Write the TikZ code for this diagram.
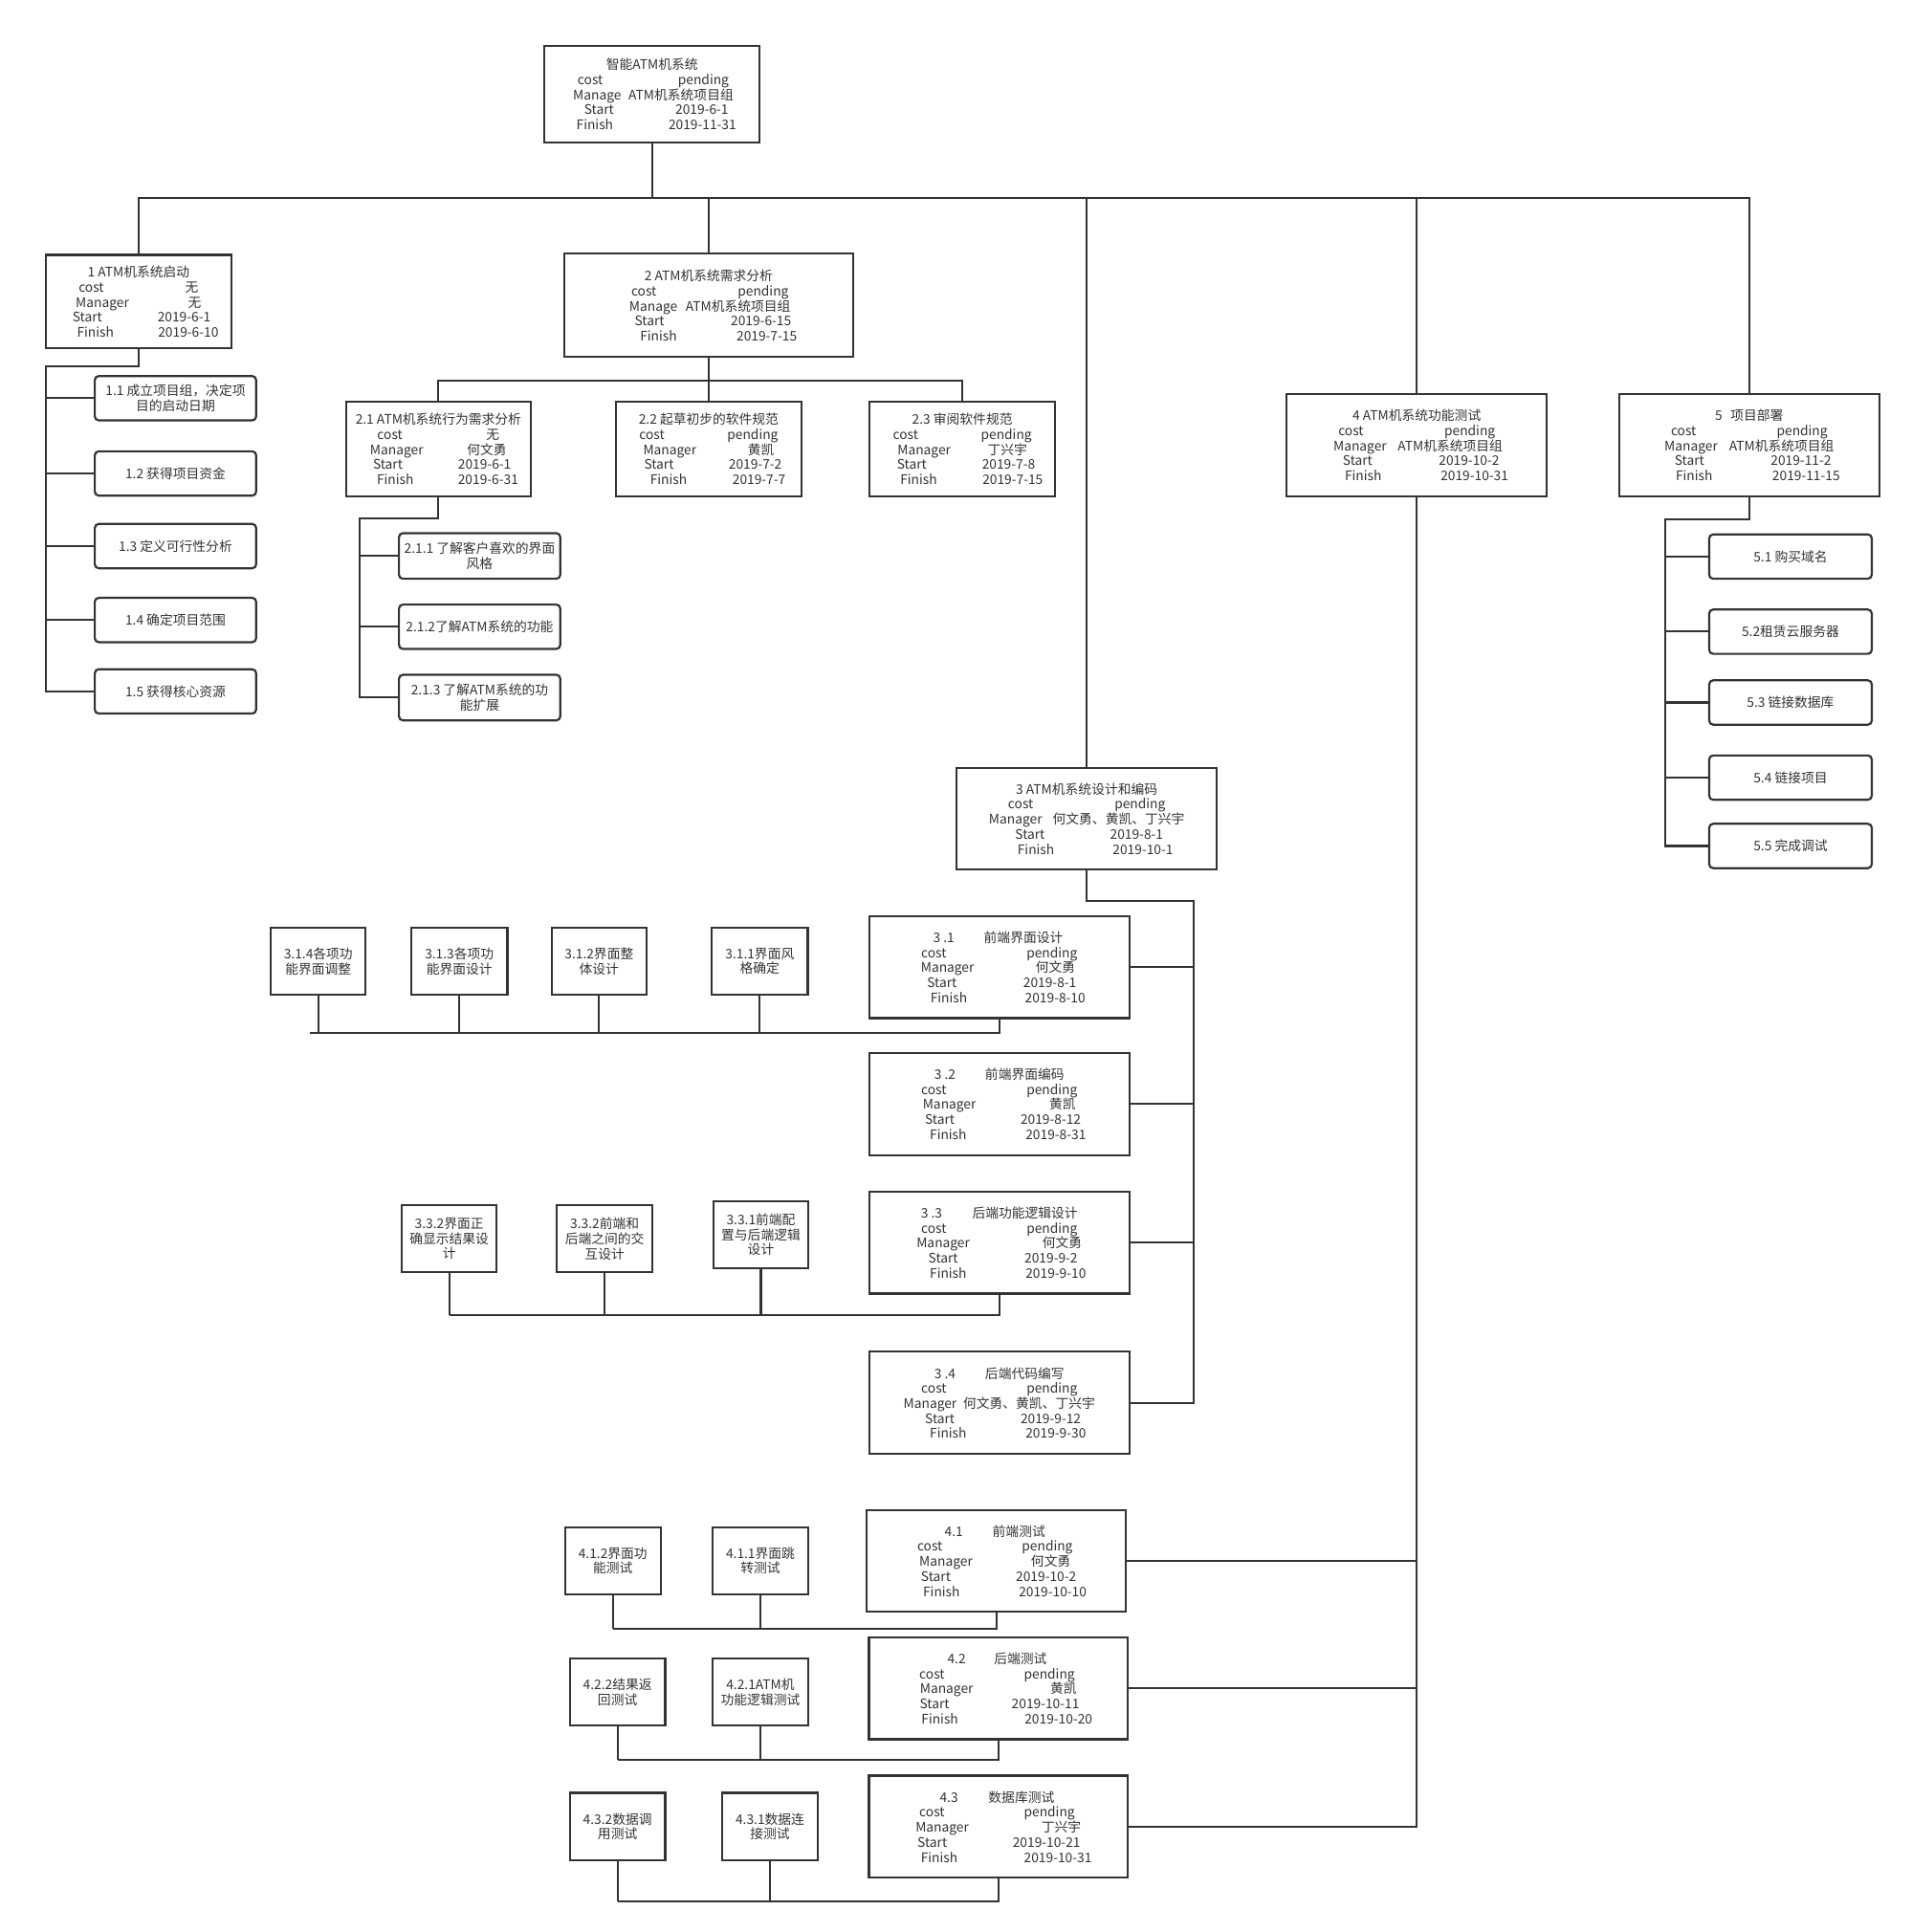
\documentclass[tikz,border=0pt]{standalone}
\usepackage{fontspec}
\setmainfont{Noto Sans CJK SC}
\definecolor{lc}{HTML}{333333}
\newcommand\fs{\fontsize{5.35}{6.1}\selectfont}
\setlength{\unitlength}{0.5pt}
\newcommand\rw[4][0]{\kern#1\unitlength #2\hspace*{#3\unitlength}#4\kern-#1\unitlength}
\tikzset{
  box/.style={draw=lc, line width=0.85pt, inner sep=0pt, align=center, font=\fs, text=lc},
  rbox/.style={box, rounded corners=1.6pt},
  sz/.style 2 args={minimum width=#1*0.5pt, minimum height=#2*0.5pt},
  ln/.style={draw=lc, line width=0.8pt},
}
\begin{document}
\begin{tikzpicture}[x=0.5pt,y=-0.5pt]
\fill[white] (0,0) rectangle (1552,1569);
\useasboundingbox (0,0) rectangle (1552,1569);

% root
\node[box, sz={175}{79}] (root) at (529.5,76.5) {智能ATM机系统\\
\rw[1]{cost}{61}{pending}\\
\rw[1]{Manage}{6}{ATM机系统项目组}\\
\rw[3.5]{Start}{50}{2019-6-1}\\
\rw[3.5]{Finish}{45}{2019-11-31}};

% level 1
\node[box, sz={151}{76}] (b1) at (112.5,245) {1 ATM机系统启动\\
\rw{cost}{66}{无}\\
\rw{Manager}{48}{无}\\
\rw[2.5]{Start}{45}{2019-6-1}\\
\rw[7.5]{Finish}{36}{2019-6-10}};

\node[box, sz={235}{84}] (b2) at (575.5,248) {2 ATM机系统需求分析\\
\rw[1]{cost}{66}{pending}\\
\rw[1]{Manage}{6.7}{ATM机系统项目组}\\
\rw[3.5]{Start}{54}{2019-6-15}\\
\rw[8]{Finish}{48.5}{2019-7-15}};

\node[box, sz={211}{82.6}] (b3) at (882.5,664.8) {3 ATM机系统设计和编码\\
\rw{cost}{66}{pending}\\
\rw{Manager}{8.6}{何文勇、黄凯、丁兴宇}\\
\rw[2]{Start}{53}{2019-8-1}\\
\rw[7]{Finish}{47.5}{2019-10-1}};

\node[box, sz={211}{83}] (b4) at (1150.5,361.5) {4 ATM机系统功能测试\\
\rw{cost}{65.6}{pending}\\
\rw[1]{Manager}{9}{ATM机系统项目组}\\
\rw[3.5]{Start}{54}{2019-10-2}\\
\rw[8]{Finish}{48}{2019-10-31}};

\node[box, sz={211}{83}] (b5) at (1420.5,361.5) {5\hspace*{6.6\unitlength}项目部署\\
\rw{cost}{65.4}{pending}\\
\rw{Manager}{9.3}{ATM机系统项目组}\\
\rw[3]{Start}{54}{2019-11-2}\\
\rw[7]{Finish}{48.6}{2019-11-15}};

% root bus
\coordinate (busL) at (112.5,161);
\draw[ln] (root.south) -- (root.south |- busL);
\draw[ln] (b1.north) -- (b1.north |- busL) -- (b5.north |- busL) -- (b5.north);
\draw[ln] (b2.north) -- (b2.north |- busL);
\draw[ln] (b3.north) -- (b3.north |- busL);
\draw[ln] (b4.north) -- (b4.north |- busL);

% 1.x
\node[rbox, sz={131}{36}] (b11) at (142.5,323.4) {1.1 成立项目组，决定项\\目的启动日期};
\node[rbox, sz={131}{36}] (b12) at (142.5,384.5) {1.2 获得项目资金};
\node[rbox, sz={131}{36}] (b13) at (142.5,443.5) {1.3 定义可行性分析};
\node[rbox, sz={131}{36}] (b14) at (142.5,503.5) {1.4 确定项目范围};
\node[rbox, sz={131}{36}] (b15) at (142.5,561.5) {1.5 获得核心资源};
\coordinate (v1) at (37.2,297.7);
\draw[ln] (b1.south) |- (v1) -- (v1 |- b15.west) -- (b15.west);
\foreach \n in {b11,b12,b13,b14} \draw[ln] (v1 |- \n.west) -- (\n.west);

% 2.x
\node[box, sz={150}{77}] (b21) at (356,364.5) {2.1 ATM机系统行为需求分析\\
\rw{cost}{68}{无}\\
\rw{Manager}{35.5}{何文勇}\\
\rw[3]{Start}{45}{2019-6-1}\\
\rw[7.5]{Finish}{36}{2019-6-31}};
\node[box, sz={151}{77}] (b22) at (575.5,364.5) {2.2 起草初步的软件规范\\
\rw{cost}{51}{pending}\\
\rw{Manager}{41.6}{黄凯}\\
\rw[3.5]{Start}{44.6}{2019-7-2}\\
\rw[7.5]{Finish}{37}{2019-7-7}};
\node[box, sz={151}{77}] (b23) at (781.5,364.5) {2.3 审阅软件规范\\
\rw{cost}{51}{pending}\\
\rw{Manager}{30}{丁兴宇}\\
\rw[3]{Start}{45}{2019-7-8}\\
\rw[7.5]{Finish}{37}{2019-7-15}};
\coordinate (bus2) at (356,308.9);
\draw[ln] (b2.south) -- (b2.south |- bus2);
\draw[ln] (b21.north) |- (bus2 -| b23.north) -- (b23.north);
\draw[ln] (b22.north) -- (b22.north |- bus2);

% 2.1.x
\node[rbox, sz={131}{37}] (b211) at (389.5,451.5) {2.1.1 了解客户喜欢的界面\\风格};
\node[rbox, sz={131}{36}] (b212) at (389.5,509) {2.1.2了解ATM系统的功能};
\node[rbox, sz={131}{37}] (b213) at (389.5,566.5) {2.1.3 了解ATM系统的功\\能扩展};
\coordinate (v21) at (292.2,421);
\draw[ln] (b21.south) |- (v21) -- (v21 |- b213.west) -- (b213.west);
\foreach \n in {b211,b212} \draw[ln] (v21 |- \n.west) -- (\n.west);

% 3.x
\node[box, sz={211}{83}] (b31) at (811.5,785.3) {\rw[-1]{3 .1}{24}{前端界面设计}\\
\rw{cost}{65}{pending}\\
\rw[-1]{Manager}{50}{何文勇}\\
\rw[2]{Start}{54}{2019-8-1}\\
\rw[7]{Finish}{47}{2019-8-10}};
\node[box, sz={211}{83}] (b32) at (811.5,896.5) {\rw{3 .2}{24}{前端界面编码}\\
\rw{cost}{65}{pending}\\
\rw{Manager}{59.6}{黄凯}\\
\rw[3]{Start}{53.5}{2019-8-12}\\
\rw[7]{Finish}{48}{2019-8-31}};
\node[box, sz={211}{83}] (b33) at (811.5,1009) {\rw{3 .3}{24.5}{后端功能逻辑设计}\\
\rw{cost}{65}{pending}\\
\rw{Manager}{59}{何文勇}\\
\rw[3]{Start}{54}{2019-9-2}\\
\rw[7]{Finish}{48}{2019-9-10}};
\node[box, sz={211}{83}] (b34) at (811.5,1139.3) {\rw{3 .4}{24}{后端代码编写}\\
\rw{cost}{65}{pending}\\
\rw{Manager}{5.3}{何文勇、黄凯、丁兴宇}\\
\rw[3]{Start}{53.5}{2019-9-12}\\
\rw[7]{Finish}{48}{2019-9-30}};
\coordinate (v3) at (969.5,732);
\draw[ln] (b3.south) |- (v3) -- (v3 |- b34.east) -- (b34.east);
\foreach \n in {b31,b32,b33} \draw[ln] (\n.east) -- (\n.east -| v3);

% 3.1.x
\node[box, sz={77}{54.3}] (c314) at (258.5,780.6) {3.1.4各项功\\能界面调整};
\node[box, sz={78}{54.3}] (c313) at (373,780.6) {3.1.3各项功\\能界面设计};
\node[box, sz={77}{54.3}] (c312) at (486.5,780.6) {3.1.2界面整\\体设计};
\node[box, sz={78}{54.3}] (c311) at (617,780.6) {3.1.1界面风\\格确定};
\coordinate (bus31) at (251.6,839);
\draw[ln] (b31.south) |- (bus31);
\foreach \n in {c314,c313,c312,c311} \draw[ln] (\n.south) -- (\n.south |- bus31);

% 3.3.x
\node[box, sz={77}{54.5}] (c332a) at (364.8,1005.9) {3.3.2界面正\\确显示结果设\\计};
\node[box, sz={77.4}{54.5}] (c332b) at (491,1005.9) {3.3.2前端和\\后端之间的交\\互设计};
\node[box, sz={77.4}{54.6}] (c331) at (617.9,1002.7) {3.3.1前端配\\置与后端逻辑\\设计};
\coordinate (bus33) at (364.8,1068);
\draw[ln] (b33.south) |- (bus33);
\foreach \n in {c332a,c332b,c331} \draw[ln] (\n.south) -- (\n.south |- bus33);

% 4.x
\node[box, sz={210}{82}] (b41) at (809,1267.5) {\rw[-1]{4.1}{24}{前端测试}\\
\rw[-1]{cost}{64.5}{pending}\\
\rw[-1]{Manager}{47.5}{何文勇}\\
\rw[2]{Start}{53}{2019-10-2}\\
\rw[7]{Finish}{48}{2019-10-10}};
\node[box, sz={210}{83}] (b42) at (810.7,1371) {\rw[-1]{4.2}{23}{后端测试}\\
\rw[-1]{cost}{64.5}{pending}\\
\rw{Manager}{62.6}{黄凯}\\
\rw[1]{Start}{50.6}{2019-10-11}\\
\rw[7]{Finish}{54}{2019-10-20}};
\node[box, sz={210}{83}] (b43) at (810.7,1483.5) {\rw[-1]{4.3}{24.7}{数据库测试}\\
\rw[-1]{cost}{64.5}{pending}\\
\rw{Manager}{59}{丁兴宇}\\
\rw[0.5]{Start}{53.3}{2019-10-21}\\
\rw[6.5]{Finish}{54}{2019-10-31}};
\draw[ln] (b4.south) -- (b4.south |- b43.east) -- (b43.east);
\foreach \n in {b41,b42} \draw[ln] (\n.east) -- (\n.east -| b4.south);

% 4.x.x
\node[box, sz={77.5}{54.6}] (c412) at (497.7,1267.5) {4.1.2界面功\\能测试};
\node[box, sz={77.5}{54.6}] (c411) at (617.5,1267.5) {4.1.1界面跳\\转测试};
\coordinate (bus41) at (497.7,1323.1);
\draw[ln] (b41.south) |- (bus41);
\foreach \n in {c412,c411} \draw[ln] (\n.south) -- (\n.south |- bus41);

\node[box, sz={77.5}{54.6}] (c422) at (501.5,1374) {4.2.2结果返\\回测试};
\node[box, sz={77.5}{54.6}] (c421) at (617.5,1374) {4.2.1ATM机\\功能逻辑测试};
\coordinate (bus42) at (501.5,1429.2);
\draw[ln] (b42.south) |- (bus42);
\foreach \n in {c422,c421} \draw[ln] (\n.south) -- (\n.south |- bus42);

\node[box, sz={77.5}{55}] (c432) at (501.5,1483.4) {4.3.2数据调\\用测试};
\node[box, sz={77.5}{55}] (c431) at (625.3,1483.4) {4.3.1数据连\\接测试};
\coordinate (bus43) at (501.5,1544.2);
\draw[ln] (b43.south) |- (bus43);
\foreach \n in {c432,c431} \draw[ln] (\n.south) -- (\n.south |- bus43);

% 5.x
\node[rbox, sz={132}{36}] (b51) at (1454,452) {5.1 购买域名};
\node[rbox, sz={132}{36}] (b52) at (1454,513) {5.2租赁云服务器};
\node[rbox, sz={132}{36}] (b53) at (1454,570.5) {5.3 链接数据库};
\node[rbox, sz={132}{36}] (b54) at (1454,631.5) {5.4 链接项目};
\node[rbox, sz={132}{36}] (b55) at (1454,687) {5.5 完成调试};
\coordinate (v5) at (1352.3,421.6);
\draw[ln] (b5.south) |- (v5) -- (v5 |- b55.west) -- (b55.west);
\foreach \n in {b51,b52,b53,b54} \draw[ln] (v5 |- \n.west) -- (\n.west);
\end{tikzpicture}
\end{document}
